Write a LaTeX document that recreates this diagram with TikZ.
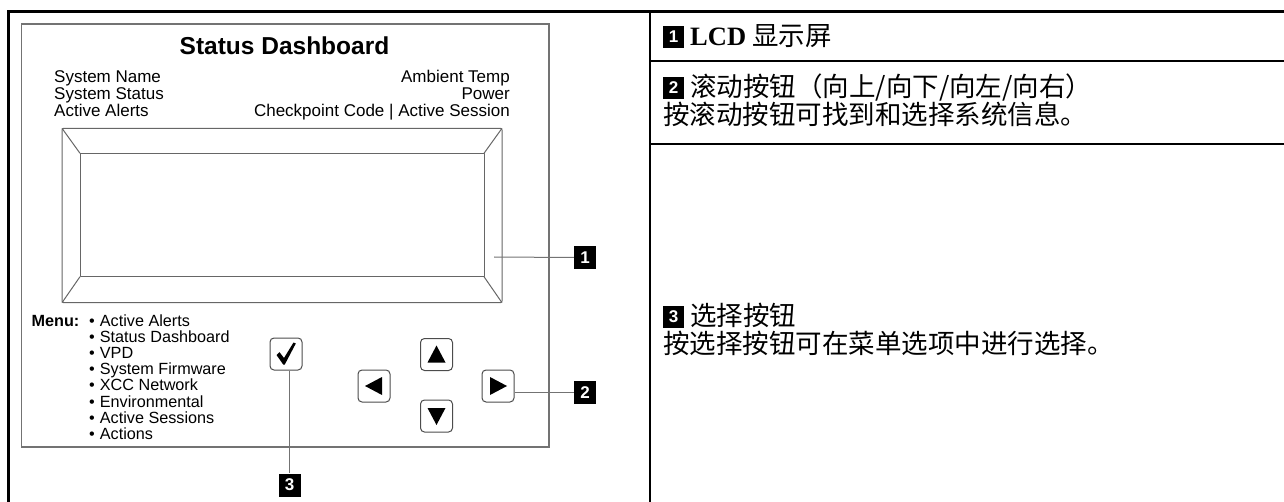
\documentclass[tikz,border=0pt]{standalone}
\usepackage{fontspec}
\setmainfont{Liberation Sans}
\newfontfamily\cjk{Noto Sans CJK SC}
\newfontfamily\lcdserif{Liberation Serif}
\tikzset{
  frameline/.style={line width=2.7pt, line cap=rect},
  panel/.style={draw=black!55, line width=1.2pt},
  bezel/.style={draw=black!60, line width=1pt, line join=round},
  leader/.style={draw=black!55, line width=1pt},
  btn/.style={draw=black!70, line width=1pt, rounded corners=4pt, minimum width=32pt, minimum height=32pt, inner sep=0pt},
  callout/.style={fill=black, text=white, font=\bfseries\fontsize{17}{17}\selectfont, minimum width=22pt, minimum height=23pt, inner sep=0pt},
  callsm/.style={fill=black, text=white, font=\bfseries\fontsize{17}{17}\selectfont, minimum width=21pt, minimum height=22pt, inner sep=0pt},
  info/.style={font=\fontsize{17}{17}\selectfont, inner sep=0pt},
  menuitem/.style={font=\fontsize{16.2}{16.2}\selectfont, inner sep=0pt, anchor=base west},
  rtext/.style={font=\cjk\fontsize{26.5}{26.5}\selectfont, inner sep=0pt, anchor=base west},
}
\begin{document}
\begin{tikzpicture}[x=1pt,y=-1pt]
\useasboundingbox (0,0) rectangle (1284,502);
% table frame
\draw[frameline] (1284,11.5) -- (8.5,11.5) -- (8.5,502);
\draw[frameline] (650,11.5) -- (650,502);
\draw[frameline] (650,61) -- (1284,61);
\draw[frameline] (650,144) -- (1284,144);
% panel
\draw[panel] (21.5,24) rectangle (549,447);
\node[font=\bfseries\fontsize{24.5}{24.5}\selectfont, inner sep=0pt, anchor=base] (title) at (284.5,55) {Status Dashboard};
\node[info, anchor=base west] (sn) at (54,83) {System Name};
\node[info, anchor=base west] (ss) at (54,100) {System Status};
\node[info, anchor=base west] (sa) at (54,116.7) {Active Alerts};
\node[info, anchor=base east] (at) at (510,83) {Ambient Temp};
\node[info, anchor=base east] (pw) at (510,100) {Power};
\node[info, anchor=base east] (cc) at (510,116.7) {Checkpoint Code | Active Session};
% LCD bezel
\coordinate (o1) at (62,128.3); \coordinate (o2) at (502,128.3);
\coordinate (o3) at (502,302.7); \coordinate (o4) at (62,302.7);
\coordinate (i1) at (80,153.3); \coordinate (i2) at (484,153.3);
\coordinate (i3) at (484,276.7); \coordinate (i4) at (80,276.7);
\draw[bezel, rounded corners=1.5pt] (o1) -- (o2) -- (o3) -- (o4) -- cycle;
\draw[bezel] (i1) -- (i2) -- (i3) -- (i4) -- cycle;
\draw[bezel] (o1) -- (i1) (o2) -- (i2) (o3) -- (i3) (o4) -- (i4);
\coordinate (lcdpt) at (494,257);
\node[callout] (c1) at (585,257.5) {1};
\draw[leader] (lcdpt) -- (c1.west);
% menu
\node[font=\bfseries\fontsize{16.2}{16.2}\selectfont, inner sep=0pt, anchor=base west] (menu) at (31.5,326.5) {Menu:};
\foreach \t [count=\i] in {Active Alerts,Status Dashboard,VPD,System Firmware,XCC Network,Environmental,Active Sessions,Actions}{
  \node[menuitem] (b\i) at (89,326.5+16.1*\i-16.1) {•};
  \node[menuitem] (m\i) at (99.7,326.5+16.1*\i-16.1) {\t};
}
% buttons
\node[btn] (chk) at (286,354) {};
\node[btn] (up) at (436.5,354.5) {};
\node[btn] (lt) at (374,386) {};
\node[btn] (rt) at (498,386) {};
\node[btn] (dn) at (436.5,416) {};
\fill ([shift={(-9.5,1)}]chk.center) -- ([shift={(-6.5,-1.8)}]chk.center) -- ([shift={(-2,4)}]chk.center) -- ([shift={(7.5,-11.5)}]chk.center) -- ([shift={(9.8,-10.5)}]chk.center) -- ([shift={(-1.2,10.5)}]chk.center) -- ([shift={(-2.8,10.5)}]chk.center) -- cycle;
\fill ([shift={(0,-9)}]up.center) -- ([shift={(9,8)}]up.center) -- ([shift={(-9,8)}]up.center) -- cycle;
\fill ([shift={(0,9)}]dn.center) -- ([shift={(9,-8)}]dn.center) -- ([shift={(-9,-8)}]dn.center) -- cycle;
\fill ([shift={(-9,0)}]lt.center) -- ([shift={(8,-9)}]lt.center) -- ([shift={(8,9)}]lt.center) -- cycle;
\fill ([shift={(9,0)}]rt.center) -- ([shift={(-8,-9)}]rt.center) -- ([shift={(-8,9)}]rt.center) -- cycle;
\node[callout] (c2) at (585,392.5) {2};
\draw[leader] (rt.east |- c2.west) -- (c2.west);
\node[callout] (c3) at (289.5,485) {3};
\draw[leader] (chk.south -| c3.north) -- (c3.north);
% right column
\node[callsm] (k1) at (673.5,37) {1};
\node[rtext] (t1) at (690,45.5) {{\lcdserif\bfseries LCD} 显示屏};
\node[callsm] (k2) at (673.5,88) {2};
\node[rtext] (t2a) at (690,96.5) {滚动按钮（向上/向下/向左/向右）};
\node[rtext] (t2b) at (663,125) {按滚动按钮可找到和选择系统信息。};
\node[callsm] (k3) at (673.5,317) {3};
\node[rtext] (t3a) at (690,325.5) {选择按钮};
\node[rtext] (t3b) at (663,353.5) {按选择按钮可在菜单选项中进行选择。};
\end{tikzpicture}
\end{document}
